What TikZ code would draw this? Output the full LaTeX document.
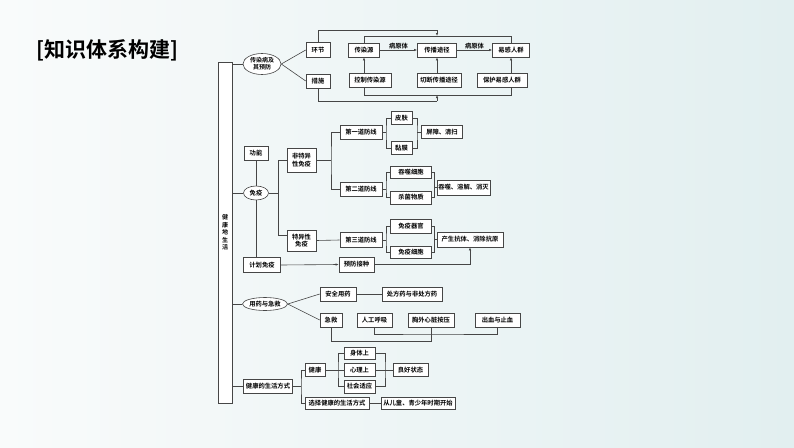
\documentclass[tikz,border=0pt]{standalone}
\usepackage{fontspec}
\newfontfamily\cjk{Noto Sans CJK SC}[BoldFont={Noto Sans CJK SC Bold}]
\usetikzlibrary{shapes.geometric,arrows.meta}
\definecolor{bgl}{RGB}{249,251,251}
\definecolor{bgr}{RGB}{226,239,240}
\definecolor{ln}{RGB}{70,70,70}
\tikzset{
  bx/.style={draw=ln, line width=0.6pt, fill=white, inner sep=0pt, align=center,
     font=\cjk\bfseries\fontsize{6.3}{7.6}\selectfont, text=black},
  ell/.style={bx, ellipse},
  cn/.style={draw=ln, line width=0.6pt},
  ar/.style={cn, -{Latex[length=3pt,width=2.4pt]}},
  lab/.style={font=\cjk\bfseries\fontsize{6.3}{7.6}\selectfont, inner sep=1pt}
}
\begin{document}
\begin{tikzpicture}[x=1pt,y=-1pt]
\useasboundingbox (0,0) rectangle (794,447);
\shade[left color=bgl, right color=bgr] (0,0) rectangle (794,447);
\node[font=\cjk\bfseries\fontsize{21}{24}\selectfont, inner sep=0pt] (title) at (107,50) {[知识体系构建]};
% root frame
\node[bx, minimum width=14, minimum height=341, font=\cjk\bfseries\fontsize{6}{7.6}\selectfont] (root) at (225,232.5) {健\\康\\地\\生\\活};
% ---- section 1
\node[ell, minimum width=38, minimum height=21, font=\cjk\bfseries\fontsize{6}{7}\selectfont] (e1) at (262,64) {传染病及\\其预防};
\node[bx, minimum width=24, minimum height=15] (hj) at (318,50) {环节};
\node[bx, minimum width=24, minimum height=14] (cs) at (318,81) {措施};
\node[bx, minimum width=31, minimum height=14] (cry) at (364,50) {传染源};
\node[bx, minimum width=39, minimum height=14] (cbtj) at (437,50) {传播途径};
\node[bx, minimum width=37, minimum height=14] (yg) at (511,50) {易感人群};
\node[bx, minimum width=42, minimum height=14] (kz) at (370,80) {控制传染源};
\node[bx, minimum width=44, minimum height=14] (qd) at (439,80) {切断传播途径};
\node[bx, minimum width=50, minimum height=14] (bh) at (502,80) {保护易感人群};
\coordinate (ot) at (437,30);
\coordinate (it) at (437,36);
\coordinate (ob) at (437,101);
\coordinate (ib) at (437,95);
\draw[cn] (root.east |- e1.west) -- (e1.west);
\draw[cn] (e1.east) -- (hj.west);
\draw[cn] (e1.east) -- (cs.west);
\draw[cn] (hj.north) |- (ot);
\draw[ar] (ot) -- (it);
\draw[cn] (cry.north) -- (cry.north |- it) -- (yg.north |- it) -- (yg.north);
\draw[cn] (cs.south) |- (ob);
\draw[ar] (ob) -- (ib);
\draw[cn] (kz.south -| cry) -- (cry |- ib) -- (yg |- ib) -- (bh.south -| yg);
\draw[ar] (cry) -- node[lab, above] {病原体} (cbtj);
\draw[ar] (cbtj) -- node[lab, above] {病原体} (yg);
\draw[ar] (kz.north -| cry) -- (cry.south);
\draw[ar] (qd.north -| cbtj) -- (cbtj.south);
\draw[ar] (bh.north -| yg) -- (yg.south);
% ---- section 2
\node[ell, minimum width=25, minimum height=14] (my) at (256,193) {免疫};
\node[bx, minimum width=24, minimum height=14] (gn) at (256,153) {功能};
\node[bx, minimum width=37, minimum height=15] (jh) at (262,265) {计划免疫};
\node[bx, minimum width=29, minimum height=24] (ftyx) at (301.5,160) {非特异\\性免疫};
\node[bx, minimum width=29, minimum height=21] (tyx) at (301.5,240.5) {特异性\\免疫};
\node[bx, minimum width=42, minimum height=14] (d1) at (361,132) {第一道防线};
\node[bx, minimum width=42, minimum height=14] (d2) at (361,189) {第二道防线};
\node[bx, minimum width=42, minimum height=15] (d3) at (361,240) {第三道防线};
\node[bx, minimum width=21, minimum height=13] (pf) at (401.5,118) {皮肤};
\node[bx, minimum width=21, minimum height=13] (nm) at (401.5,148) {黏膜};
\node[bx, minimum width=41, minimum height=13] (pz) at (442,132) {屏障、清扫};
\node[bx, minimum width=41, minimum height=12] (ts) at (411,172) {吞噬细胞};
\node[bx, minimum width=41, minimum height=13] (sj) at (411,197.5) {杀菌物质};
\node[bx, minimum width=53, minimum height=15] (tsrj) at (463.5,187.5) {吞噬、溶解、消灭};
\node[bx, minimum width=41, minimum height=14] (qg) at (411,226) {免疫器官};
\node[bx, minimum width=41, minimum height=12] (xb) at (411,252) {免疫细胞};
\node[bx, minimum width=66, minimum height=15] (kt) at (470,239.5) {产生抗体、消除抗原};
\node[bx, minimum width=35, minimum height=15] (yf) at (356.5,264.5) {预防接种};
\coordinate (b1) at (278,193);
\coordinate (bt) at (278,160);
\coordinate (bb) at (278,235);
\coordinate (b2) at (331,160);
\coordinate (b3) at (386,132);
\coordinate (b4) at (417,132);
\coordinate (b5) at (386,189);
\coordinate (b6) at (434.5,187.5);
\coordinate (b7) at (386,240);
\coordinate (b8) at (434.5,239.5);
\draw[cn] (root.east |- my.west) -- (my.west);
\draw[cn] (gn) -- (my);
\draw[cn] (my.south) -- (my.south |- jh.north);
\draw[cn] (my.east) -- (b1);
\draw[cn] (ftyx.west) -- (bt) -- (bb) -- (tyx.west |- bb);
\draw[cn] (ftyx.east) -- (b2);
\draw[cn] (d1.west) -| (b2) |- (d2.west);
\draw[cn] (tyx.east) -- (d3.west);
\draw[cn] (d1.east) -- (b3);
\draw[cn] (pf.west) -| (b3) |- (nm.west);
\draw[cn] (pf.east) -| (b4) |- (nm.east);
\draw[cn] (b4) -- (pz.west);
\draw[cn] (d2.east) -- (b5);
\draw[cn] (ts.west) -| (b5) |- (sj.west);
\draw[cn] (ts.east) -| (b6) |- (sj.east);
\draw[cn] (b6) -- (tsrj.west);
\draw[cn] (d3.east) -- (b7);
\draw[cn] (qg.west) -| (b7) |- (xb.west);
\draw[cn] (qg.east) -| (b8) |- (xb.east);
\draw[cn] (b8) -- (kt.west);
\draw[ar] (jh.east) -- (yf.west);
\draw[ar] (yf.east) -| (kt.south);
% ---- section 3
\node[ell, minimum width=45, minimum height=13] (yy) at (265,304) {用药与急救};
\node[bx, minimum width=36, minimum height=14] (aq) at (338,294) {安全用药};
\node[bx, minimum width=22, minimum height=14] (jj) at (331,320) {急救};
\node[bx, minimum width=60, minimum height=14] (cf) at (412,294) {处方药与非处方药};
\node[bx, minimum width=35, minimum height=14] (rg) at (374.5,320) {人工呼吸};
\node[bx, minimum width=46, minimum height=14] (xz) at (431,320) {胸外心脏按压};
\node[bx, minimum width=45, minimum height=14] (cx) at (497.5,320) {出血与止血};
\coordinate (j0) at (431,334);
\coordinate (j1) at (431,341);
\draw[cn] (root.east |- yy.west) -- (yy.west);
\draw[cn] (yy.east) -- (aq.west);
\draw[cn] (yy.east) -- (jj.west);
\draw[cn] (aq) -- (cf);
\draw[cn] (rg.south) |- (j0) -| (cx.south);
\draw[cn] (jj.south) |- (j1) -- (xz.south);
% ---- section 4
\node[bx, minimum width=49, minimum height=14] (jk) at (268,386) {健康的生活方式};
\node[bx, minimum width=20, minimum height=13] (hh) at (315,370) {健康};
\node[bx, minimum width=64, minimum height=12] (xzjk) at (337,403) {选择健康的生活方式};
\node[bx, minimum width=31, minimum height=12] (st) at (359.5,353) {身体上};
\node[bx, minimum width=31, minimum height=13] (xl) at (359.5,370) {心理上};
\node[bx, minimum width=31, minimum height=13] (sh) at (359.5,386.5) {社会适应};
\node[bx, minimum width=35, minimum height=13] (lh) at (410.5,370) {良好状态};
\node[bx, minimum width=74, minimum height=12] (cong) at (418,403) {从儿童、青少年时期开始};
\coordinate (b9) at (301,386);
\coordinate (b10) at (338,370);
\coordinate (b11) at (385,370);
\draw[cn] (root.east |- jk.west) -- (jk.west);
\draw[cn] (jk.east) -- (b9);
\draw[cn] (hh.west) -| (b9) |- (xzjk.west);
\draw[cn] (hh.east) -- (xl.west);
\draw[cn] (st.west) -| (b10) |- (sh.west);
\draw[cn] (st.east) -| (b11) |- (sh.east);
\draw[cn] (xl.east) -- (lh.west);
\draw[cn] (xzjk.east) -- (cong.west);
\end{tikzpicture}
\end{document}
